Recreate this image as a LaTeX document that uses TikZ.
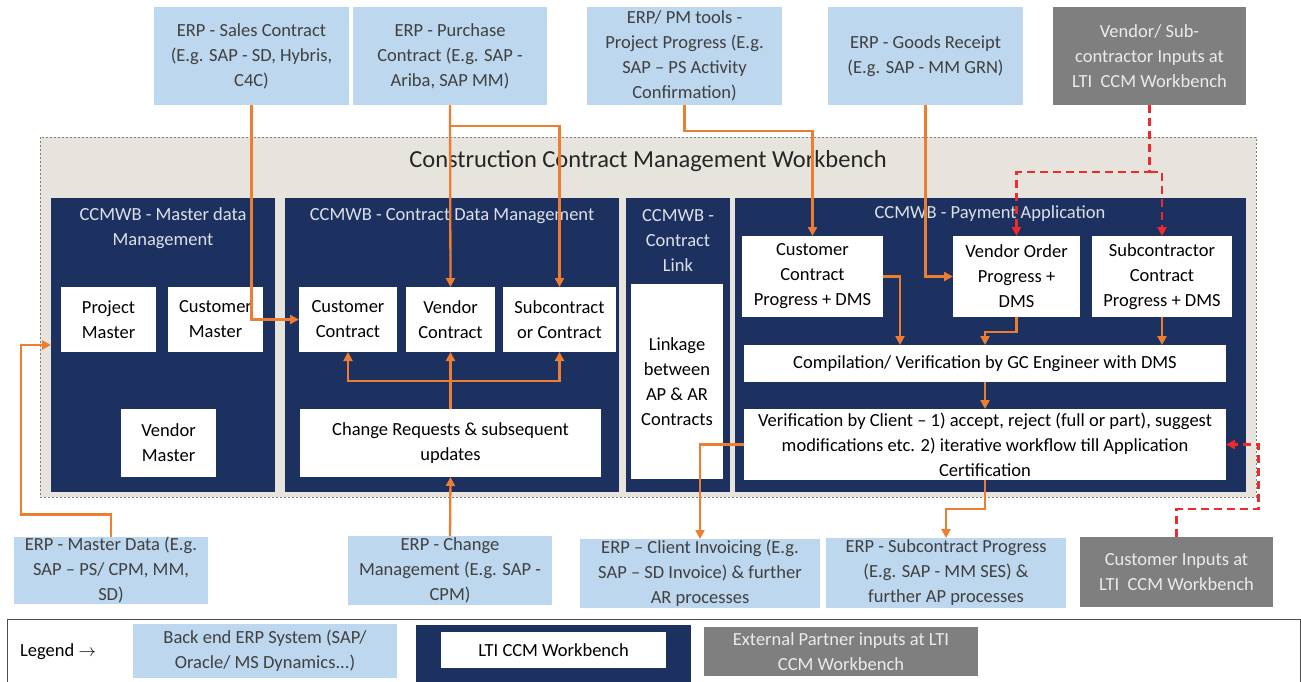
\documentclass[tikz,border=0pt]{standalone}
\usepackage{fontspec}
\setmainfont{Carlito}
\usetikzlibrary{arrows.meta,positioning,calc}
\definecolor{erpblue}{HTML}{BDD7EE}
\definecolor{partnergrey}{HTML}{7F7F7F}
\definecolor{wbnavy}{HTML}{1C3160}
\definecolor{wbback}{HTML}{E7E3DD}
\definecolor{flowor}{HTML}{ED7D31}
\definecolor{inred}{HTML}{EE2A2A}
\definecolor{erptext}{HTML}{404040}
\tikzset{
  box/.style={rectangle, inner sep=0pt, outer sep=0pt, align=center, font=\fontsize{18.5}{25}\selectfont},
  erp/.style={box, fill=erpblue, text=erptext},
  partner/.style={box, fill=partnergrey, text=white!92!black},
  panel/.style={rectangle, fill=wbnavy, inner sep=0pt, outer sep=0pt},
  cell/.style={box, fill=white, text=black},
  paneltitle/.style={align=center, inner sep=0pt, text=white!85!wbnavy, font=\fontsize{18.5}{25}\selectfont},
  flow/.style={-{Triangle[length=9pt,width=9pt]}, draw=flowor, line width=2.3pt},
  partnerflow/.style={-{Triangle[length=9pt,width=9pt]}, draw=inred, line width=2.3pt, dash pattern=on 8pt off 5pt},
}
\begin{document}
\begin{tikzpicture}[x=1pt,y=-1pt]
\useasboundingbox (0,0) rectangle (1301,681);

% back end and partner inputs on top
\node[erp, minimum width=195, minimum height=98] (sales) at (251.5,56) {ERP - Sales Contract\\(E.g. SAP - SD, Hybris,\\C4C)};
\node[erp, minimum width=194, minimum height=98] (purchase) at (450,56) {ERP - Purchase\\Contract (E.g. SAP -\\Ariba, SAP MM)};
\node[erp, minimum width=195, minimum height=98] (pmtools) at (684.5,56) {ERP/ PM tools -\\Project Progress (E.g.\\SAP -- PS Activity\\Confirmation)};
\node[erp, minimum width=195, minimum height=98] (goods) at (925.5,56) {ERP - Goods Receipt\\(E.g. SAP - MM GRN)};
\node[partner, minimum width=193, minimum height=98] (vendin) at (1149.5,56) {Vendor/ Sub-\\contractor Inputs at\\LTI~ CCM Workbench};

% workbench
\node[draw=gray, fill=wbback, dash pattern=on 2pt off 2pt, line width=1pt, minimum width=1216, minimum height=360, inner sep=0pt] (wb) at (648,317) {};
\node[inner sep=0pt, text=black!85, font=\fontsize{24.5}{28}\selectfont] (wbtitle) at (648,161) {Construction Contract Management Workbench};

\node[panel, minimum width=224, minimum height=294] (pmaster) at (163,345) {};
\node[panel, minimum width=334, minimum height=294] (pcontract) at (452,345) {};
\node[panel, minimum width=104, minimum height=294] (plink) at (678,345) {};
\node[panel, minimum width=511, minimum height=294] (ppay) at (990.5,345) {};

\node[paneltitle] (tmaster) at (163,228.5) {CCMWB - Master data\\Management};
\node[paneltitle] (tcontract) at (452,216) {CCMWB - Contract Data Management};
\node[paneltitle] (tlink) at (678,240) {CCMWB -\\Contract\\Link};
\node[paneltitle] (tpay) at (990,214) {CCMWB - Payment Application};

% master data
\node[cell, minimum width=95, minimum height=65] (projm) at (108.5,319.5) {Project\\Master};
\node[cell, minimum width=95, minimum height=65] (custm) at (215.5,319.5) {Customer\\Master};
\node[cell, minimum width=95, minimum height=68] (vendm) at (168.5,443) {Vendor\\Master};

% contract data
\node[cell, minimum width=98, minimum height=65] (custc) at (348,319.5) {Customer\\Contract};
\node[cell, minimum width=89, minimum height=65] (vendc) at (450.5,319.5) {Vendor\\Contract};
\node[cell, minimum width=113, minimum height=65] (subc) at (559.5,319.5) {Subcontract\\or Contract};
\node[cell, minimum width=301, minimum height=68] (chreq) at (450.5,443) {Change Requests \& subsequent\\updates};

% contract link
\node[cell, minimum width=92, minimum height=195] (linkage) at (677,381.5) {Linkage\\between\\AP \& AR\\Contracts};

% payment application
\node[cell, minimum width=141, minimum height=81] (ccprog) at (812.5,276.5) {Customer\\Contract\\Progress + DMS};
\node[cell, minimum width=127, minimum height=81] (voprog) at (1016.5,276.5) {Vendor Order\\Progress +\\DMS};
\node[cell, minimum width=140, minimum height=81] (scprog) at (1162,276.5) {Subcontractor\\Contract\\Progress + DMS};
\node[cell, minimum width=482, minimum height=37] (compil) at (985,363.5) {Compilation/ Verification by GC Engineer with DMS};
\node[cell, minimum width=482, minimum height=71] (verif) at (985,444.5) {Verification by Client -- 1) accept, reject (full or part), suggest\\modifications etc. 2) iterative workflow till Application\\Certification};

% back end and partner inputs below
\node[erp, minimum width=194, minimum height=65] (mdata) at (111,570.5) {ERP - Master Data (E.g.\\SAP -- PS/ CPM, MM,\\SD)};
\node[erp, minimum width=204, minimum height=69] (chmgmt) at (450,570.5) {ERP - Change\\Management (E.g. SAP -\\CPM)};
\node[erp, minimum width=240, minimum height=69] (invoic) at (700,573.5) {ERP -- Client Invoicing (E.g.\\SAP -- SD Invoice) \& further\\AR processes};
\node[erp, minimum width=240, minimum height=70] (scerp) at (946,573) {ERP - Subcontract Progress\\(E.g. SAP - MM SES) \&\\further AP processes};
\node[partner, minimum width=193, minimum height=70] (custin) at (1176.5,572) {Customer Inputs at\\LTI~ CCM Workbench};

% legend
\draw[black!70, line width=1pt] (7,690) -- (7,619) -- (1300,619) -- (1300,690);
\node[anchor=west, inner sep=0pt, font=\fontsize{18.5}{25}\selectfont] (legend) at (20,652) {Legend $\rightarrow$};
\node[erp, minimum width=264, minimum height=54] (lgerp) at (265,651) {Back end ERP System (SAP/\\Oracle/ MS Dynamics...)};
\node[panel, minimum width=275, minimum height=65] (lgwb) at (553.5,657.5) {};
\node[cell, minimum width=225, minimum height=36] (lgwbin) at (553.5,650) {LTI CCM Workbench};
\node[partner, minimum width=274, minimum height=49] (lgext) at (841,651.5) {External Partner inputs at LTI\\CCM Workbench};

% flows
\draw[flow] (sales.south) |- (custc.west);
\draw[flow] (purchase.south) -- (vendc.north);
\draw[flow] (purchase.south) ++(0,21) -| (subc.north);
\draw[flow] (pmtools.south) -- ++(0,26) -| (ccprog.north);
\draw[flow] (goods.south) |- (voprog.west);
\draw[partnerflow] (vendin.south) -- ++(0,67) coordinate (vsplit) -| (voprog.north);
\draw[partnerflow] (vsplit) -| (scprog.north);
\draw[flow] (ccprog.east) -- ++(17,0) coordinate (cc1) -- (cc1 |- compil.north);
\draw[flow] (voprog.south) -- ++(0,15) -| (compil.north);
\draw[flow] (scprog.south) -- (scprog.south |- compil.north);
\draw[flow] (compil.south) -- (verif.north);
\draw[flow] (verif.west) -| (invoic.north);
\draw[flow] (verif.south) -- ++(0,29) -| (scerp.north);
\draw[partnerflow] (custin.north) -- ++(0,-28) -- ++(82,0) coordinate (ci1) -- (ci1 |- verif.east) -- (verif.east);
\draw[flow] (chmgmt.north) -- (chreq.south);
\draw[flow] (chreq.north) -- (vendc.south);
\draw[flow] (chreq.north) ++(0,-28) -| (custc.south);
\draw[flow] (chreq.north) ++(0,-28) -| (subc.south);
\draw[flow] (mdata.north) -- ++(0,-23) -- ++(-90,0) coordinate (md1) -- (md1 |- pmaster.west) -- (pmaster.west);
\end{tikzpicture}
\end{document}
